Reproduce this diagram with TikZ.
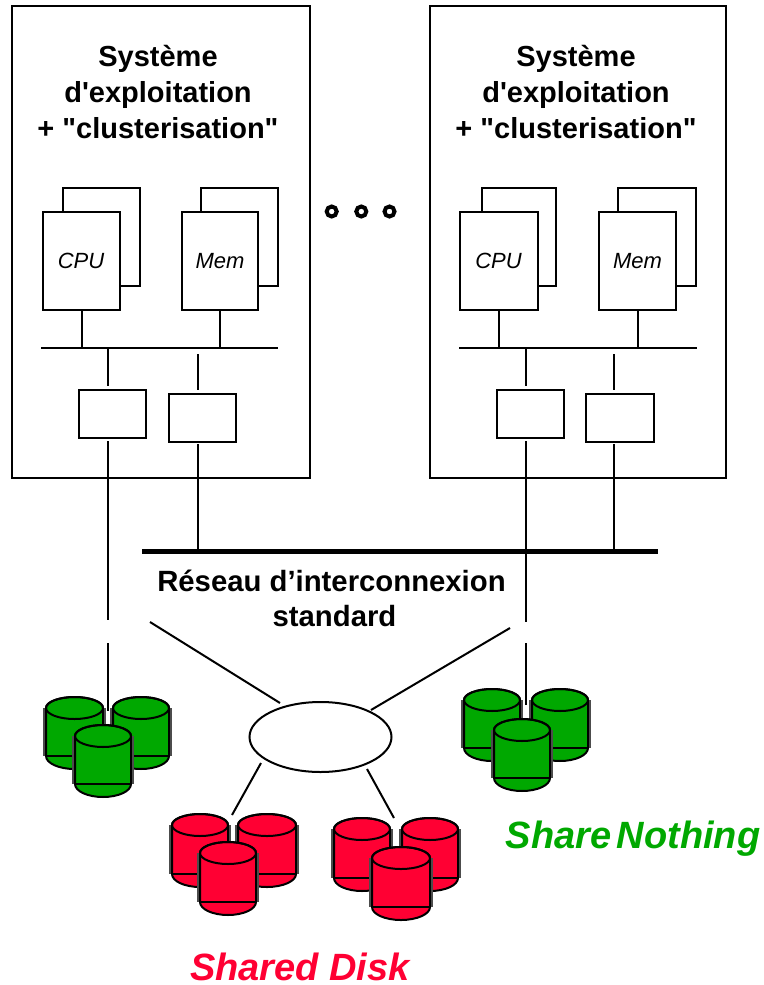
\documentclass[tikz,border=0pt]{standalone}
\usepackage{fontspec}
\usetikzlibrary{shapes.geometric}
\setmainfont{Liberation Sans}[Ligatures=TeXOff]
\definecolor{diskgreen}{HTML}{00A800}
\definecolor{diskred}{HTML}{FF0033}
\tikzset{
  line/.style={draw=black,line width=2pt},
  panel/.style={draw=black,line width=2pt,fill=white,rectangle,minimum width=0pt,minimum height=0pt,inner sep=0pt,outer sep=0pt,anchor=north west},
  title/.style={font=\bfseries\fontsize{29}{36}\selectfont,align=center,inner sep=0pt,text=black},
  chip/.style={font=\itshape\fontsize{22}{24}\selectfont,inner sep=0pt},
  dot/.style={circle,draw=black,line width=4pt,minimum size=10pt,inner sep=0pt},
  caption/.style={inner sep=0pt,font=\bfseries\itshape\fontsize{38}{40}\selectfont},
}
% \cyl{left x}{top ellipse centre y}{width}{height to base line}{colour}
\newcommand{\cyl}[5]{%
  \pgfmathsetmacro{\xa}{#1}\pgfmathsetmacro{\xb}{#1+#3}\pgfmathsetmacro{\xm}{#1+#3/2}
  \pgfmathsetmacro{\yb}{#2+#4}\pgfmathsetmacro{\rx}{#3/2}
  \fill[#5,draw=black,line width=2pt] (\xa,#2) -- (\xa,\yb) arc[start angle=180,end angle=360,x radius=\rx,y radius=-13] -- (\xb,#2) arc[start angle=0,end angle=180,x radius=\rx,y radius=-11] -- cycle;
  \draw[line width=2pt] (\xm,#2) ellipse[x radius=\rx,y radius=11];
  \draw[line width=2pt] (\xa,\yb) -- (\xb,\yb);
  \draw[line width=1.5pt,black!70] (\xa-2,#2) -- (\xa-2,\yb);
  \draw[line width=1.5pt,black!70] (\xb+2,#2) -- (\xb+2,\yb);
}
\begin{document}
\begin{tikzpicture}[x=1pt,y=-1pt]
\useasboundingbox (0,0) rectangle (763,985);
% ---- left machine
\node[panel,minimum width=298pt,minimum height=472pt] (m1) at (12,6) {};
\node[title] (t1) at (158,92) {Système\\d'exploitation\\+ "clusterisation"};
\node[panel,minimum width=76.5pt,minimum height=98pt] (cpub1) at (63,188) {};
\node[panel,minimum width=76.5pt,minimum height=98pt] (cpu1) at (43.3,212) {};
\node[chip] at (81,261) {CPU};
\node[panel,minimum width=76.2pt,minimum height=98pt] (memb1) at (201.3,188) {};
\node[panel,minimum width=76.3pt,minimum height=98pt] (mem1) at (181.7,212) {};
\node[chip] at (220,261) {Mem};
\coordinate (bus1w) at (41,348); \coordinate (bus1e) at (278,348);
\draw[line] (bus1w) -- (bus1e);
\draw[line] (cpu1.south) -- (cpu1.south |- bus1w);
\draw[line] (mem1.south) -- (mem1.south |- bus1w);
\node[panel,minimum width=66.4pt,minimum height=48pt] (na1) at (79.3,390) {};
\node[panel,minimum width=66.4pt,minimum height=48pt] (nb1) at (169.3,394) {};
\coordinate (a1t) at (107.7,348); \coordinate (a1m) at (107.7,386);
\coordinate (a1b) at (107.7,441); \coordinate (a1e) at (107.7,620);
\coordinate (a1s) at (107.7,643); \coordinate (a1d) at (107.7,711);
\coordinate (b1t) at (197.7,354); \coordinate (b1m) at (197.7,390);
\coordinate (b1b) at (197.7,444); \coordinate (b1e) at (197.7,551);
\draw[line] (a1t) -- (a1m);
\draw[line] (b1t) -- (b1m);
\draw[line] (a1b) -- (a1e);
\draw[line] (a1s) -- (a1d);
\draw[line] (b1b) -- (b1e);
% ---- right machine
\node[panel,minimum width=296pt,minimum height=472pt] (m2) at (430,6) {};
\node[title] (t2) at (576,92) {Système\\d'exploitation\\+ "clusterisation"};
\node[panel,minimum width=74.3pt,minimum height=98pt] (cpub2) at (481.7,188) {};
\node[panel,minimum width=78.2pt,minimum height=98pt] (cpu2) at (459.5,212) {};
\node[chip] at (498.5,261) {CPU};
\node[panel,minimum width=78.3pt,minimum height=98pt] (memb2) at (617.7,188) {};
\node[panel,minimum width=76.7pt,minimum height=98pt] (mem2) at (599.3,212) {};
\node[chip] at (637.5,261) {Mem};
\coordinate (bus2w) at (459,348); \coordinate (bus2e) at (696.5,348);
\draw[line] (bus2w) -- (bus2e);
\draw[line] (cpu2.south) -- (cpu2.south |- bus2w);
\draw[line] (mem2.south) -- (mem2.south |- bus2w);
\node[panel,minimum width=66.7pt,minimum height=48pt] (na2) at (497.3,390) {};
\node[panel,minimum width=68.3pt,minimum height=48pt] (nb2) at (585.7,394) {};
\coordinate (a2t) at (525.7,348); \coordinate (a2m) at (525.7,386);
\coordinate (a2b) at (525.7,441); \coordinate (a2e) at (525.7,622);
\coordinate (a2s) at (525.7,643); \coordinate (a2d) at (525.7,705);
\coordinate (b2t) at (613.7,354); \coordinate (b2m) at (613.7,390);
\coordinate (b2b) at (613.7,444); \coordinate (b2e) at (613.7,551);
\draw[line] (a2t) -- (a2m);
\draw[line] (b2t) -- (b2m);
\draw[line] (a2b) -- (a2e);
\draw[line] (a2s) -- (a2d);
\draw[line] (b2b) -- (b2e);
% ---- dots
\node[dot] (d1) at (331.7,211.5) {};
\node[dot] (d2) at (361.3,211.5) {};
\node[dot] (d3) at (389.5,211.5) {};
% ---- network
\coordinate (netw) at (142,551); \coordinate (nete) at (658,551);
\draw[black,line width=5pt] (netw) -- (nete);
\node[title,font=\bfseries\fontsize{29.3}{35}\selectfont] (net) at (331.5,598) {Réseau d’interconnexion\\\hspace*{6pt}standard};
% ---- disk bay
\node[ellipse,draw=black,line width=2pt,minimum width=142pt,minimum height=70pt,inner sep=0pt,outer sep=0pt] (sw) at (320.5,737) {};
\coordinate (s1a) at (150,622); \coordinate (s1b) at (280,703);
\coordinate (s2a) at (510,628); \coordinate (s2b) at (371,710);
\coordinate (s3a) at (261,763); \coordinate (s3b) at (232,815);
\coordinate (s4a) at (367,769); \coordinate (s4b) at (394,818);
\draw[line] (s1a) -- (s1b);
\draw[line] (s2a) -- (s2b);
\draw[line] (s3a) -- (s3b);
\draw[line] (s4a) -- (s4b);
% ---- disks
\cyl{46}{708}{57}{48}{diskgreen}
\cyl{113}{708}{56}{48}{diskgreen}
\cyl{75}{736}{56}{48}{diskgreen}
\cyl{464}{700}{56}{48}{diskgreen}
\cyl{532}{700}{56}{48}{diskgreen}
\cyl{494}{730}{56}{48}{diskgreen}
\cyl{172}{825}{56}{49}{diskred}
\cyl{238}{825}{58}{49}{diskred}
\cyl{200}{853}{56}{49}{diskred}
\cyl{334}{829}{56}{49}{diskred}
\cyl{402}{829}{56}{49}{diskred}
\cyl{372}{858}{58}{49}{diskred}
% ---- captions
\node[caption,text=diskgreen] (sn) at (633,838.5) {Share\hspace{-5pt} Nothing};
\node[caption,text=diskred] (sd) at (300,966.5) {Shared Disk};
\end{tikzpicture}
\end{document}
